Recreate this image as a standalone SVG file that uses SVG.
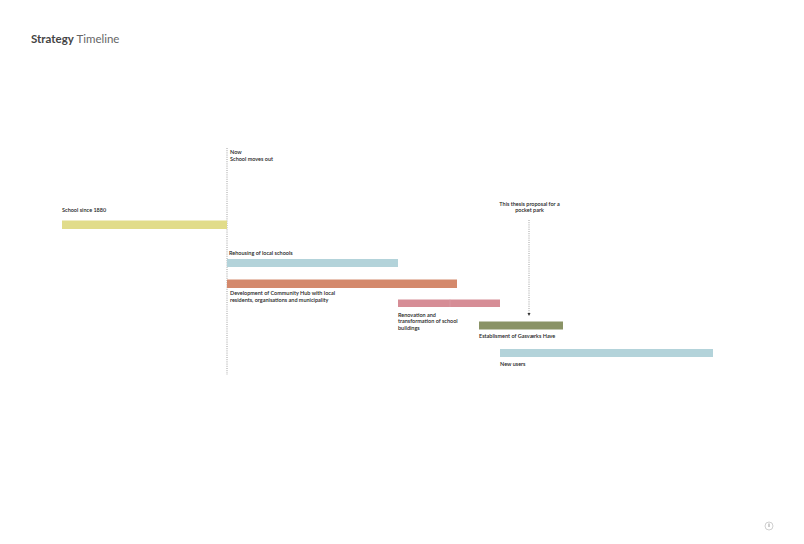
<svg xmlns="http://www.w3.org/2000/svg" width="804" height="544" viewBox="0 0 804 544">
<style>
.t{font-family:Lato,"Open Sans","Liberation Sans",sans-serif;font-size:5.5px;fill:#222;font-weight:600}
.tc{text-anchor:middle}
.ttl{font-family:Lato,"Open Sans","Liberation Sans",sans-serif;font-size:11.5px}
.dot{stroke:#888;stroke-width:0.8;stroke-dasharray:1 1.2;fill:none}
</style>
<defs>
<marker id="ah" markerWidth="4" markerHeight="4" refX="2" refY="2" orient="auto" markerUnits="userSpaceOnUse">
<path d="M0,0.5 L3,2 L0,3.5 Z" fill="#333"/>
</marker>
</defs>
<rect width="804" height="544" fill="#fff"/>
<text class="ttl" x="31" y="42.5"><tspan font-weight="bold" fill="#444">Strategy</tspan><tspan fill="#666"> Timeline</tspan></text>

<g id="connectors">
<line class="dot" x1="227" y1="148" x2="227" y2="375"/>
<line class="dot" x1="529" y1="220" x2="529" y2="315" marker-end="url(#ah)"/>
</g>

<g id="now">
<text class="t" x="230" y="154">Now</text>
<text class="t" x="230" y="161">School moves out</text>
</g>
<g id="school">
<text class="t" x="62" y="212">School since 1880</text>
<rect x="62" y="220.5" width="165" height="8.5" fill="#e1dc8a"/>
</g>
<g id="rehousing">
<text class="t" x="229" y="255">Rehousing of local schools</text>
<rect x="227" y="259" width="171" height="8" fill="#b3d3da"/>
</g>
<g id="hub">
<rect x="227" y="279.5" width="230" height="8.5" fill="#d4896c"/>
<text class="t" x="230" y="295">Development of Community Hub with local</text>
<text class="t" x="230" y="301.5">residents, organisations and municipality</text>
</g>
<g id="renovation">
<rect x="398" y="299.5" width="102" height="7.5" fill="#d68d96"/>
<line x1="450" y1="299.5" x2="450" y2="307" stroke="#dca0a8" stroke-width="0.6"/>
<text class="t" x="398" y="316.5">Renovation and</text>
<text class="t" x="398" y="323">transformation of school</text>
<text class="t" x="398" y="329.5">buildings</text>
</g>
<g id="proposal">
<text class="t tc" x="529.5" y="205.5">This thesis proposal for a</text>
<text class="t tc" x="529.5" y="212">pocket park</text>
</g>
<g id="gasvaerks">
<rect x="479" y="321.5" width="84" height="8" fill="#8a9366"/>
<text class="t" x="479" y="337.5">Establisment of Gasværks Have</text>
</g>
<g id="newusers">
<rect x="500" y="349" width="213" height="8" fill="#b3d3da"/>
<text class="t" x="500" y="366">New users</text>
</g>
<g id="page">
<circle cx="769" cy="526" r="4" fill="none" stroke="#bbb" stroke-width="0.7"/>
<line x1="769" y1="523.5" x2="769" y2="527" stroke="#777" stroke-width="0.7"/>
</g>
</svg>
